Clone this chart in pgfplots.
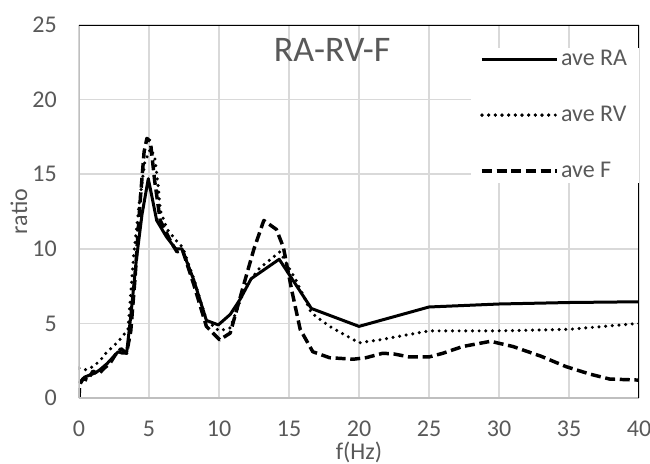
\documentclass[border=0pt]{standalone}
\usepackage{pgfplots}
\pgfplotsset{compat=1.18}
\usepackage{fontspec}
\setmainfont{Carlito}
\definecolor{txt}{HTML}{595959}
\definecolor{grd}{HTML}{D9D9D9}
\definecolor{axg}{HTML}{BFBFBF}
\begin{document}
\begin{tikzpicture}
\useasboundingbox (-59.25pt,-49.5pt) rectangle (428.25pt,298.5pt);
\begin{axis}[
  at={(0,0)}, anchor=south west,
  scale only axis, width=420pt, height=279.75pt,
  xmin=0, xmax=40, ymin=0, ymax=25,
  xtick={0,5,...,40}, ytick={0,5,...,25},
  /pgf/number format/assume math mode=true,
  grid=major, major grid style={grd, line width=1.1pt},
  axis line style={draw=none},
  major tick length=0pt,
  tick label style={font=\fontsize{18}{20}\selectfont, text=txt},
  every x tick label/.append style={anchor=base, inner sep=0pt, yshift=-29pt},
  every y tick label/.append style={anchor=east, inner sep=0pt, xshift=-16.5pt},
  xlabel={f(Hz)}, ylabel={ratio},
  every axis x label/.style={at={(axis description cs:0.5,0)}, anchor=center, yshift=-41pt, font=\fontsize{18}{20}\selectfont, text=txt},
  every axis y label/.style={at={(axis description cs:0,0.5)}, xshift=-45pt, rotate=90, anchor=center, font=\fontsize{18}{20}\selectfont, text=txt},
  title={RA-RV-F},
  title style={at={(axis description cs:0.452,0.912)}, anchor=center, font=\fontsize{27}{30}\selectfont, text=txt},
  legend style={at={(axis description cs:0.7,0.94)}, anchor=north west, draw=none, fill=white,
    font=\fontsize{18}{20}\selectfont, text=txt, inner xsep=6.75pt, inner ysep=0pt, row sep=25pt},
  legend cell align=left,
  legend image code/.code={\path (0pt,0pt) -- (56pt,0pt); \draw[#1] (0pt,0pt) -- (52.5pt,0pt);},
  line join=round,
]
\addplot[black, line width=2.25pt] coordinates {
(0,1.0) (0.4,1.4) (0.8,1.55) (1.2,1.7) (1.5,1.9) (2.0,2.3) (2.4,2.7) (2.8,3.1) (3.1,3.0) (3.4,3.0)
(3.7,5.5) (4.1,9.3) (4.5,12.3) (4.95,14.7) (5.55,11.9) (6.25,10.8) (6.9,10.0) (7.35,10.0)
(8.2,7.9) (9.1,5.2) (9.95,4.9) (10.8,5.6) (11.5,6.6) (12.3,8.0) (14.3,9.3) (16.6,6.0)
(20.0,4.8) (25.0,6.1) (30.0,6.3) (35.0,6.4) (40.0,6.45)
};
\addlegendentry{ave RA}
\addplot[black, line width=2.6pt, line cap=round, dash pattern=on 0pt off 5pt] coordinates {
(0,2.0) (0.5,1.9) (1.0,2.1) (1.5,2.5) (2.0,3.1) (2.5,3.5) (3.0,4.0) (3.5,4.6) (3.9,9.5)
(4.3,13.0) (4.7,15.8) (5.1,16.7) (5.4,16.2) (5.66,14.2) (5.8,12.6) (6.3,11.3) (6.9,10.6)
(7.4,10.1) (8.2,8.0) (9.1,5.2) (10.0,4.5) (10.8,4.7) (11.9,7.5) (12.9,8.7) (14.35,9.8)
(15.5,7.9) (16.6,5.7) (17.9,4.8) (20.0,3.7) (21.5,3.9) (25,4.5) (30,4.5) (35,4.6) (40,5.0)
};
\addlegendentry{ave RV}
\addplot[black, line width=2.6pt, dash pattern=on 7.5pt off 3.5pt] coordinates {
(0,0) (0.05,0.9) (0.3,1.3) (0.6,1.2) (1.0,1.8) (1.4,1.6) (1.8,2.0) (2.2,2.3) (2.6,2.9) (3.0,3.3)
(3.4,3.0) (3.7,4.5) (4.0,8.0) (4.36,13.1) (4.65,16.5) (4.85,17.4) (5.1,17.2) (5.4,14.6)
(5.8,11.9) (6.6,10.4) (7.0,9.8) (7.4,9.9) (8.2,7.6) (9.1,4.8) (10.05,3.9) (10.8,4.35)
(11.86,7.9) (12.5,10.0) (13.2,11.9) (14.1,11.3) (14.6,10.1) (15.2,7.2) (15.8,4.6) (16.7,3.1)
(17.9,2.7) (19.6,2.6) (20.5,2.7) (21.7,3.0) (22.5,2.95) (23.6,2.75) (25.0,2.75) (26.0,3.0)
(27.4,3.45) (29.4,3.8) (31.0,3.45) (33.0,2.8) (34.8,2.1) (36.5,1.6) (37.9,1.27) (40,1.2)
};
\addlegendentry{ave F}
\draw[axg, line width=1.1pt] (rel axis cs:0,0) -- (rel axis cs:1,0);
\draw[axg, line width=1.1pt] (rel axis cs:0,0) -- (rel axis cs:0,1);
\draw[black, line width=1.5pt] (rel axis cs:0,1) -- (rel axis cs:1,1) -- (rel axis cs:1,0);
\end{axis}
\end{tikzpicture}
\end{document}
